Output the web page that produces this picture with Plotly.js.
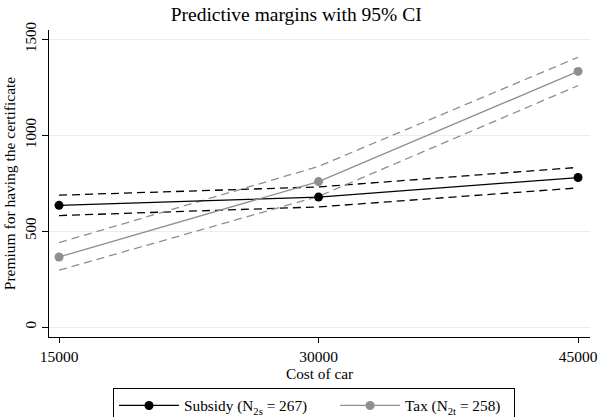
<!DOCTYPE html>
<html>
<head>
<meta charset="utf-8">
<script src="https://cdn.plot.ly/plotly-3.0.1.min.js"></script>
<style>html,body{margin:0;padding:0;background:#fff;}#chart{width:602px;height:417px;}</style>
</head>
<body>
<div id="chart"></div>
<script>
const costs = [15000, 30000, 45000];
const subsidyMargin = [634, 677, 779];
const subsidyLower = [581, 626, 725];
const subsidyUpper = [687, 730, 832];
const taxMargin = [365, 758, 1332];
const taxLower = [296, 681, 1258];
const taxUpper = [440, 837, 1406];
const seriesNames = ['Subsidy (N<sub>2s</sub> = 267)', 'Tax (N<sub>2t</sub> = 258)'];
const xTicks = [15000, 30000, 45000];
const yTicks = [0, 500, 1000, 1500];

const black = '#000000';
const gray = '#8f8f8f';
const font = 'Liberation Serif, Times New Roman, serif';
const pad = n => '&nbsp;'.repeat(n);

const traces = [
  {x: costs, y: subsidyUpper, mode: 'lines', line: {color: black, width: 1.3, dash: '8px,5px'}, showlegend: false, hoverinfo: 'skip'},
  {x: costs, y: subsidyLower, mode: 'lines', line: {color: black, width: 1.3, dash: '8px,5px'}, showlegend: false, hoverinfo: 'skip'},
  {x: costs, y: taxUpper, mode: 'lines', line: {color: gray, width: 1.3, dash: '8px,5px'}, showlegend: false, hoverinfo: 'skip'},
  {x: costs, y: taxLower, mode: 'lines', line: {color: gray, width: 1.3, dash: '8px,5px'}, showlegend: false, hoverinfo: 'skip'},
  {x: costs, y: subsidyMargin, name: seriesNames[0] + pad(6), mode: 'lines+markers', line: {color: black, width: 1.3}, marker: {color: black, size: 9}},
  {x: costs, y: taxMargin, name: seriesNames[1] + pad(2), mode: 'lines+markers', line: {color: gray, width: 1.3}, marker: {color: gray, size: 9}}
];

const layout = {
  width: 602, height: 417,
  margin: {l: 49, r: 12, t: 30, b: 80},
  paper_bgcolor: '#fff', plot_bgcolor: '#fff',
  font: {family: font, color: '#000', size: 15},
  title: {text: 'Predictive margins with 95% CI', xref: 'container', yref: 'container', x: 0.492, xanchor: 'center', y: 0.966, yanchor: 'middle', font: {family: font, size: 19.5, color: '#000'}},
  xaxis: {
    range: [14420, 45690], tickvals: xTicks, ticktext: xTicks.map(String),
    showgrid: false, zeroline: false, showline: true, linecolor: '#000', linewidth: 1,
    ticks: 'outside', ticklen: 5, tickcolor: '#000', tickfont: {family: font, size: 15.5},
    title: {text: 'Cost of car', font: {family: font, size: 15.3}, standoff: 3}
  },
  yaxis: {
    range: [-52, 1548], tickvals: yTicks, ticktext: yTicks.map(String), tickangle: -90,
    showgrid: true, gridcolor: '#e6eeef', gridwidth: 1, zeroline: false,
    showline: true, linecolor: '#000', linewidth: 1,
    ticks: 'outside', ticklen: 6, tickcolor: '#000', tickfont: {family: font, size: 15},
    title: {text: 'Premium for having the certificate', font: {family: font, size: 15.5}, standoff: 3}
  },
  legend: {
    orientation: 'h', xref: 'container', yref: 'container',
    x: 0.5216, xanchor: 'center', y: 0.0695, yanchor: 'top',
    bordercolor: '#000', borderwidth: 1, bgcolor: '#fff',
    font: {family: font, size: 15.3}, itemwidth: 60, tracegroupgap: 0
  },
  showlegend: true
};

Plotly.newPlot('chart', traces, layout, {displayModeBar: false, staticPlot: true});
</script>
</body>
</html>
